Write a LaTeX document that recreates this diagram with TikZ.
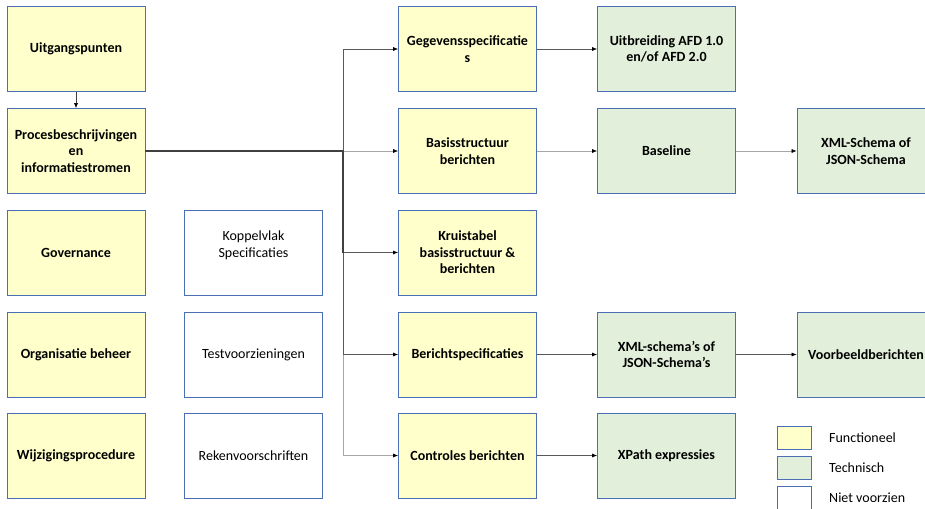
\documentclass[tikz,border=0pt]{standalone}
\usepackage{fontspec}
\setmainfont{Carlito}
\usetikzlibrary{arrows.meta}
\definecolor{bordc}{HTML}{4A6FB5}
\definecolor{funcc}{HTML}{FFFFCC}
\definecolor{techc}{HTML}{E2EFDA}
\definecolor{darkln}{HTML}{404040}
\definecolor{midln}{HTML}{595959}
\definecolor{lightln}{HTML}{A6A6A6}
\begin{document}
\begin{tikzpicture}[x=1pt,y=-1pt,
 box/.style={draw=bordc, line width=0.7pt, minimum width=138pt, minimum height=85pt, align=center, inner sep=2pt, text=black, font=\bfseries\fontsize{14}{16.5}\selectfont},
 fun/.style={box, fill=funcc},
 tech/.style={box, fill=techc},
 blank/.style={box, fill=white, font=\fontsize{14}{16.5}\selectfont},
 legbox/.style={draw=bordc, line width=0.7pt, minimum width=34pt, minimum height=23pt, inner sep=0pt},
 legtxt/.style={anchor=west, inner sep=0pt, font=\fontsize{14}{16}\selectfont},
 conn/.style={-{Latex[length=5pt,width=4pt,color=black]}, line width=0.6pt},
]
\useasboundingbox (0,0) rectangle (925,508);
% column 1
\node[fun] (uit) at (76,49) {Uitgangspunten};
\node[fun] (proc) at (76,151) {Procesbeschrijvingen\\en\\informatiestromen};
\node[fun] (gov) at (76,252.5) {Governance};
\node[fun] (org) at (76,354.5) {Organisatie beheer};
\node[fun] (wijz) at (76,455.5) {Wijzigingsprocedure};
% column 2
\node[blank] (kop) at (253.5,252.5) {Koppelvlak\\Specificaties\\\mbox{}};
\node[blank] (test) at (253.5,354.5) {Testvoorzieningen};
\node[blank] (rek) at (253.5,455.5) {Rekenvoorschriften};
% column 3
\node[fun] (geg) at (467.5,49) {Gegevensspecificatie\\s};
\node[fun] (bas) at (467.5,151) {Basisstructuur\\berichten};
\node[fun] (krui) at (467.5,252.5) {Kruistabel\\basisstructuur \&\\berichten};
\node[fun] (ber) at (467.5,354.5) {Berichtspecificaties};
\node[fun] (con) at (467.5,455.5) {Controles berichten};
% column 4
\node[tech] (afd) at (666.5,49) {Uitbreiding AFD 1.0\\en/of AFD 2.0};
\node[tech] (basl) at (666.5,151) {Baseline};
\node[tech] (xmls) at (666.5,354.5) {XML-schema’s of\\JSON-Schema’s};
\node[tech] (xpath) at (666.5,455.5) {XPath expressies};
% column 5
\node[tech] (xml) at (866,151) {XML-Schema of\\JSON-Schema};
\node[tech] (voorb) at (866,354.5) {Voorbeeldberichten};
% legend
\node[legbox, fill=funcc] (lf) at (794,437.5) {};
\node[legbox, fill=techc] (lt) at (794,467.5) {};
\node[legbox, fill=white] (ln) at (794,497.5) {};
\node[legtxt] (lft) at (829,437.5) {Functioneel};
\node[legtxt] (ltt) at (829,467.5) {Technisch};
\node[legtxt] (lnt) at (829,497.5) {Niet voorzien};
% connectors
\coordinate (j1) at (343,151);
\coordinate (j2) at (343,252.5);
\draw[conn, darkln] (uit) -- (proc);
\draw[conn, midln] (j1) |- (geg.west);
\draw[conn, lightln] (j1) -- (bas.west);
\draw[conn, lightln] (j2) |- (con.west);
\draw[conn, midln] (j2) |- (ber.west);
\draw[conn, midln] (j2) -- (krui.west);
\draw[line width=1.5pt, darkln] (proc.east) -- (j1) -- (j2);
\draw[conn, midln] (geg) -- (afd);
\draw[conn, lightln] (bas) -- (basl);
\draw[conn, lightln] (basl) -- (xml);
\draw[conn, midln] (ber) -- (xmls);
\draw[conn, midln] (xmls) -- (voorb);
\draw[conn, midln] (con) -- (xpath);
\end{tikzpicture}
\end{document}
